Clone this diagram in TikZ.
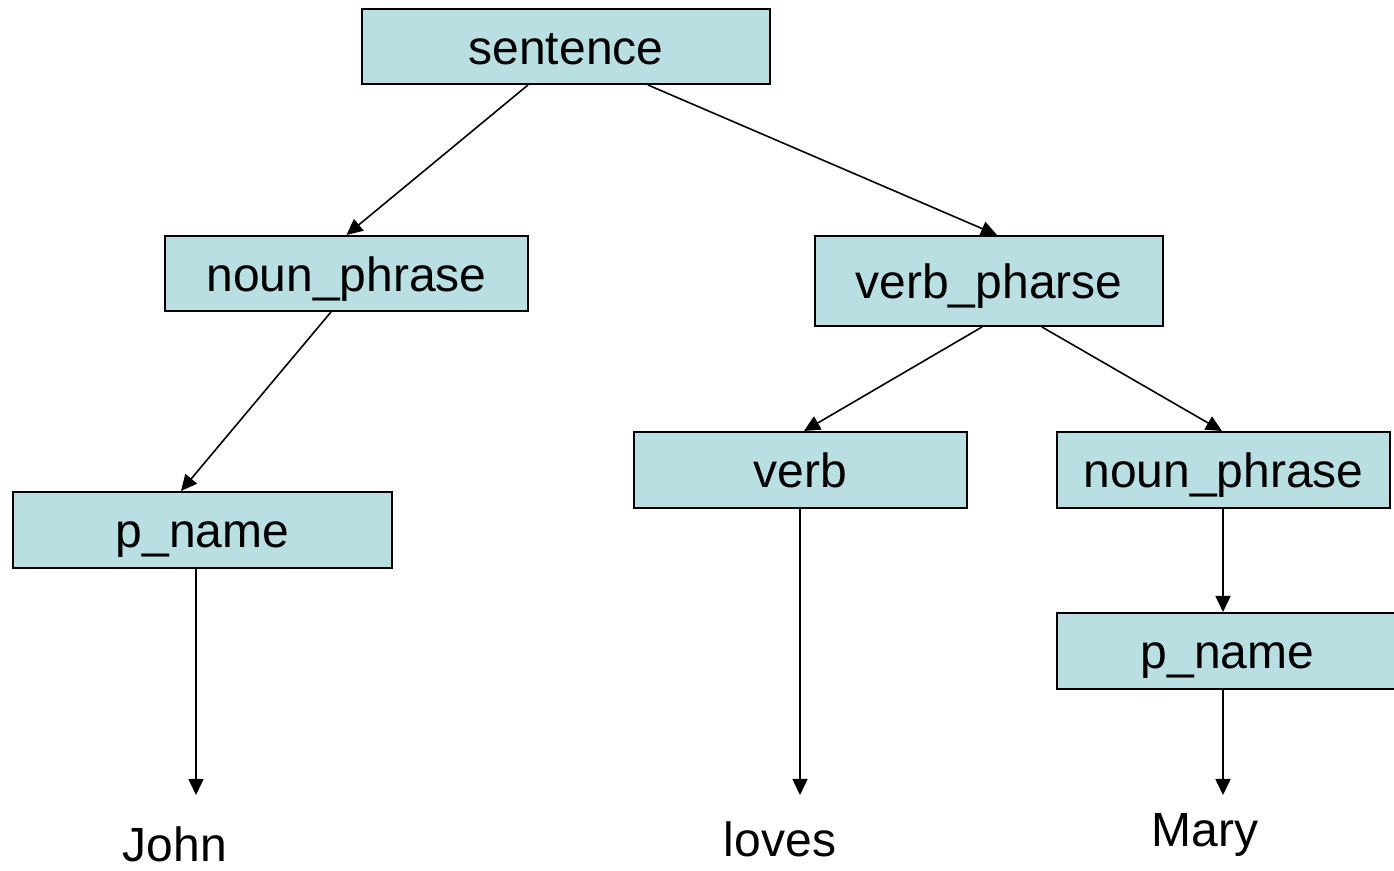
\documentclass[tikz,border=0pt]{standalone}
\usepackage{fontspec}
\setmainfont{Liberation Sans}
\usetikzlibrary{arrows.meta}
\definecolor{boxfill}{HTML}{B9DFE3}
\tikzset{
  tbox/.style={rectangle, draw=black, fill=boxfill, line width=1pt, inner sep=0pt,
    font=\fontsize{24}{28}\selectfont, text height=21pt, text depth=3pt},
  word/.style={inner sep=0pt, font=\fontsize{24}{28}\selectfont},
  conn/.style={line width=0.8pt, -{Triangle[width=7.5pt,length=8pt]}}
}
\begin{document}
\begin{tikzpicture}[x=0.5pt,y=-0.5pt]
\useasboundingbox (0,0) rectangle (1394,871);
\begin{scope}
\clip (0,0) rectangle (1394,871);
\node[tbox, minimum width=204pt, minimum height=37.5pt] (sent) at (566,46.5) {sentence};
\node[tbox, minimum width=181.5pt, minimum height=37.5pt] (np1) at (346.5,273.5) {noun\_phrase};
\node[tbox, minimum width=174pt, minimum height=45pt] (vp) at (989,281) {verb\_pharse};
\node[tbox, minimum width=189.5pt, minimum height=38pt] (pn1) at (202.5,530) {p\_name};
\node[tbox, minimum width=166.5pt, minimum height=38pt] (verb) at (800.5,470) {verb};
\node[tbox, minimum width=166.5pt, minimum height=38pt] (np2) at (1223.5,470) {noun\_phrase};
\node[tbox, minimum width=170.5pt, minimum height=38pt] (pn2) at (1227.5,651) {p\_name};
\end{scope}
\node[word] (john) at (175,844) {John};
\node[word] (loves) at (780,839) {loves};
\node[word] (mary) at (1205,835) {Mary};
\coordinate (t1) at (196,795);
\coordinate (t2) at (800,795);
\coordinate (t3) at (1223,795);
\draw[conn] ([xshift=-19pt]sent.south) -- (np1.north);
\draw[conn] ([xshift=41pt]sent.south) -- ([xshift=4pt]vp.north);
\draw[conn] ([xshift=-7.75pt]np1.south) -- ([xshift=-10.75pt]pn1.north);
\draw[conn] ([xshift=-3.5pt]vp.south) -- ([xshift=1.75pt]verb.north);
\draw[conn] ([xshift=26.5pt]vp.south) -- ([xshift=-0.75pt]np2.north);
\draw[conn] ([xshift=-0.25pt]np2.south) -- ([xshift=-0.25pt]np2.south |- pn2.north);
\draw[conn] (pn1.south -| t1) -- (t1);
\draw[conn] (verb.south -| t2) -- (t2);
\draw[conn] (pn2.south -| t3) -- (t3);
\end{tikzpicture}
\end{document}
